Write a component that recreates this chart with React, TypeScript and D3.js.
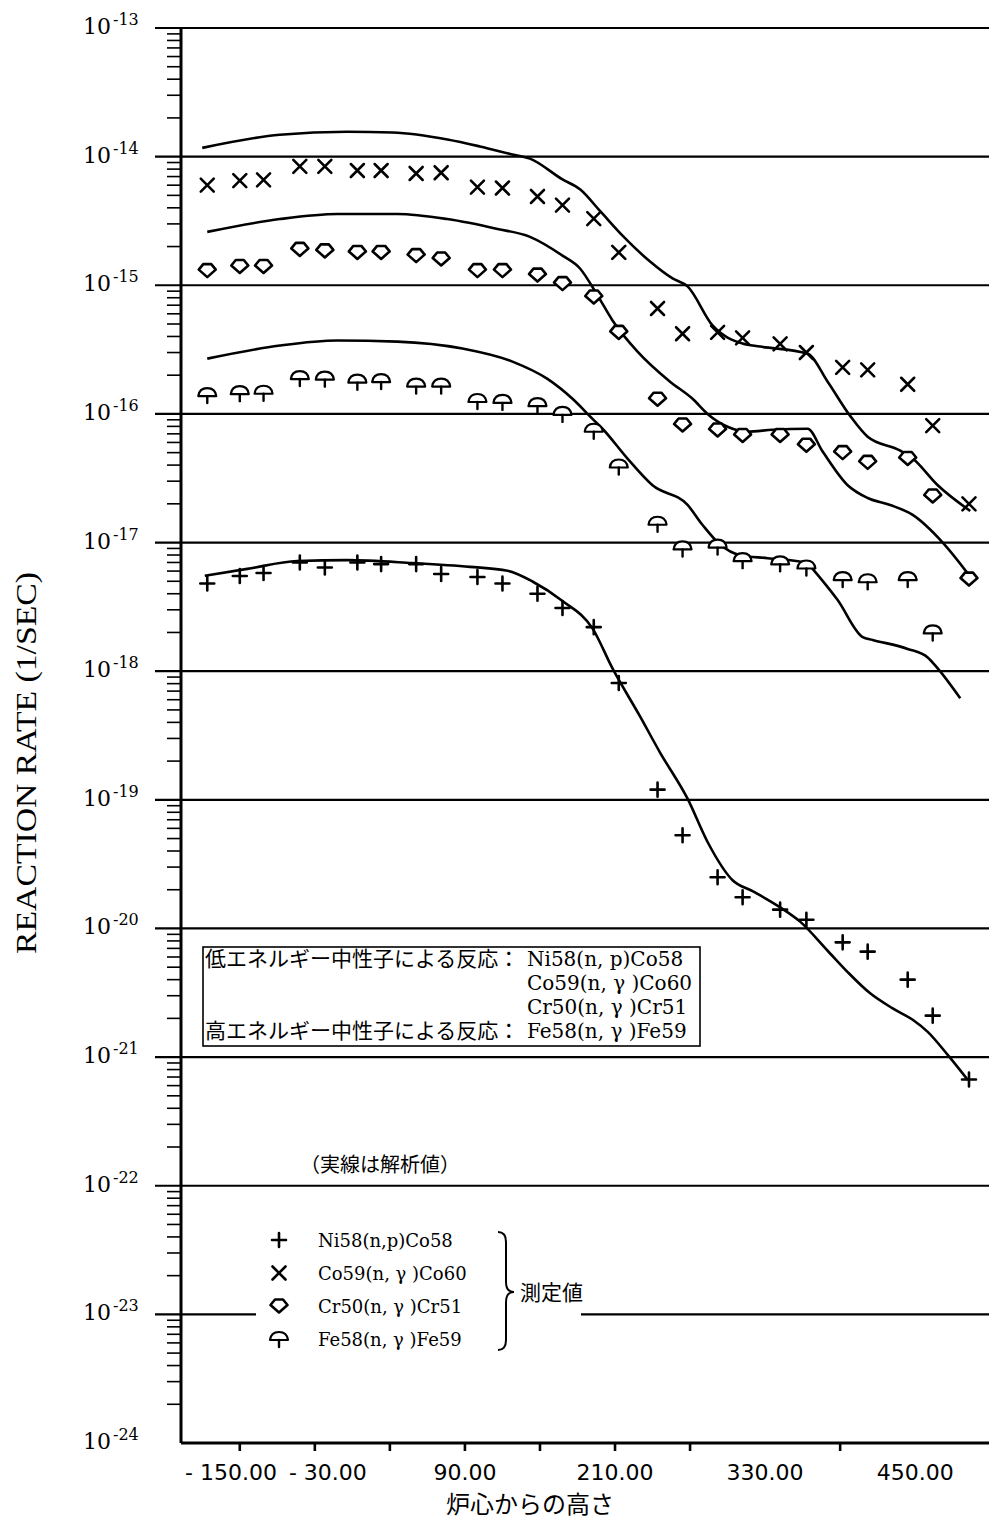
import React from 'react';
import * as d3 from 'd3';

const W = 989;
const H = 1522;

// heights of the measuring positions (cm from core)
const measuredHeights = [-116, -90, -71, -42, -22, 4, 23, 51, 71, 100, 120, 148, 168, 193, 213, 244, 264, 292, 312, 342, 363, 392, 412, 444, 464, 493];

// measured reaction rates (1/sec)
const ni58Measured = [4.8e-18, 5.5e-18, 5.8e-18, 7.0e-18, 6.4e-18, 7.0e-18, 6.8e-18, 6.8e-18, 5.7e-18, 5.4e-18, 4.8e-18, 4.0e-18, 3.1e-18, 2.2e-18, 8.1e-19, 1.2e-19, 5.3e-20, 2.5e-20, 1.75e-20, 1.4e-20, 1.17e-20, 7.8e-21, 6.6e-21, 4.0e-21, 2.1e-21, 6.7e-22];
const co59Measured = [6.0e-15, 6.5e-15, 6.6e-15, 8.4e-15, 8.4e-15, 7.8e-15, 7.8e-15, 7.4e-15, 7.5e-15, 5.8e-15, 5.7e-15, 4.9e-15, 4.2e-15, 3.3e-15, 1.8e-15, 6.6e-16, 4.2e-16, 4.3e-16, 3.9e-16, 3.5e-16, 3.0e-16, 2.3e-16, 2.2e-16, 1.7e-16, 8.1e-17, 2.0e-17];
const cr50Measured = [1.3e-15, 1.4e-15, 1.4e-15, 1.9e-15, 1.85e-15, 1.8e-15, 1.8e-15, 1.7e-15, 1.6e-15, 1.3e-15, 1.3e-15, 1.2e-15, 1.03e-15, 8.1e-16, 4.3e-16, 1.3e-16, 8.2e-17, 7.5e-17, 6.8e-17, 6.8e-17, 5.7e-17, 5.0e-17, 4.2e-17, 4.5e-17, 2.3e-17, 5.2e-18];
const fe58Measured = [1.4e-16, 1.45e-16, 1.46e-16, 1.9e-16, 1.88e-16, 1.78e-16, 1.8e-16, 1.66e-16, 1.66e-16, 1.26e-16, 1.24e-16, 1.17e-16, 1.0e-16, 7.4e-17, 3.9e-17, 1.4e-17, 9.0e-18, 9.3e-18, 7.3e-18, 6.9e-18, 6.4e-18, 5.2e-18, 5.0e-18, 5.2e-18, 2.0e-18];

// analysis (solid lines)
const coCalcH = [-120, -58, -4, 32, 76, 102, 128, 142, 168, 182, 198, 216, 238, 256, 268, 288, 312, 326, 364, 380, 398, 412, 438, 448, 468, 494];
const coCalc = [1.17e-14, 1.48e-14, 1.56e-14, 1.54e-14, 1.36e-14, 1.2e-14, 1.04e-14, 9.65e-15, 6.65e-15, 5.57e-15, 3.78e-15, 2.43e-15, 1.53e-15, 1.13e-15, 9.8e-16, 4.87e-16, 3.52e-16, 3.34e-16, 2.94e-16, 1.78e-16, 9.65e-17, 6.65e-17, 5.19e-17, 4.5e-17, 2.79e-17, 1.76e-17];
const crCalcH = [-116, -58, -12, 36, 76, 116, 142, 168, 182, 196, 208, 228, 254, 272, 284, 300, 316, 336, 364, 376, 396, 412, 430, 448, 472, 494];
const crCalc = [2.6e-15, 3.27e-15, 3.58e-15, 3.58e-15, 3.27e-15, 2.74e-15, 2.38e-15, 1.7e-15, 1.35e-15, 8.35e-16, 5.33e-16, 3.05e-16, 1.78e-16, 1.31e-16, 1.0e-16, 7.94e-17, 7.27e-17, 7.53e-17, 7.67e-17, 5.1e-17, 2.79e-17, 2.22e-17, 1.96e-17, 1.64e-17, 1.0e-17, 5.43e-18];
const feCalcH = [-116, -58, -12, 36, 88, 128, 156, 176, 192, 200, 220, 240, 268, 280, 294, 310, 332, 364, 368, 388, 408, 416, 444, 460, 468, 486];
const feCalc = [2.69e-16, 3.4e-16, 3.72e-16, 3.65e-16, 3.22e-16, 2.55e-16, 1.87e-16, 1.31e-16, 9.15e-17, 7.67e-17, 4.5e-17, 2.79e-17, 1.96e-17, 1.37e-17, 9.65e-18, 7.98e-18, 7.56e-18, 6.93e-18, 6.24e-18, 3.57e-18, 1.84e-18, 1.75e-18, 1.49e-18, 1.28e-18, 1.05e-18, 6.15e-19];
const niCalcH = [-118, -84, -44, -4, 48, 94, 124, 144, 168, 192, 208, 230, 246, 268, 284, 304, 320, 342, 358, 380, 396, 414, 432, 448, 460, 476, 492];
const niCalc = [5.52e-18, 6.24e-18, 7.18e-18, 7.3e-18, 6.93e-18, 6.47e-18, 6.03e-18, 4.98e-18, 3.51e-18, 2.15e-18, 1.05e-18, 4.45e-19, 2.33e-19, 1.02e-19, 4.7e-20, 2.37e-20, 1.95e-20, 1.46e-20, 1.13e-20, 6.71e-21, 4.58e-21, 3.13e-21, 2.39e-21, 1.95e-21, 1.57e-21, 1.04e-21, 6.65e-22];

// axes
const xTickLabels = [-150, -30, 90, 210, 330, 450];
const xTickMarks = [-90, -30, 30, 90, 150, 210, 270, 390];
const decadeExps = d3.range(-24, -12);

const legendItems = [
  { kind: 'plus', label: 'Ni58(n,p)Co58' },
  { kind: 'cross', label: 'Co59(n, γ )Co60' },
  { kind: 'gem', label: 'Cr50(n, γ )Cr51' },
  { kind: 'umbrella', label: 'Fe58(n, γ )Fe59' },
];

const SERIF = "'DejaVu Serif', 'Noto Sans CJK JP', serif";
const CJK = "'Noto Sans CJK JP', sans-serif";
const TICK_FONT = 22;

const Marker = ({ kind, x, y }: { kind: string; x: number; y: number }) => {
  const common = { stroke: '#000', strokeWidth: 2.6, strokeLinejoin: 'round' as const, strokeLinecap: 'round' as const };
  let shape;
  if (kind === 'plus') shape = <path d="M-7,0H7M0,-7V7" {...common} fill="none" />;
  else if (kind === 'cross') shape = <path d="M-6.5,-6.5L6.5,6.5M-6.5,6.5L6.5,-6.5" {...common} fill="none" />;
  else if (kind === 'gem') shape = <path d="M-8.5,-1L-4,-6.5L4,-6.5L8.5,-1L0,6.5Z" {...common} fill="#fff" />;
  else
    shape = (
      <g>
        <path d="M-9,1Q-8,-7 0,-7Q8,-7 9,1Z" {...common} strokeWidth={2.2} fill="#fff" />
        <path d="M0,1V8" {...common} strokeWidth={2.4} />
      </g>
    );
  return <g transform={`translate(${x},${y})`}>{shape}</g>;
};

// rough DejaVu Sans advance widths for the tick label strings
const textWidth = (s: string, size: number) =>
  s.split('').reduce((w, c) => w + (c === '.' || c === ' ' ? 0.318 : c === '-' ? 0.361 : 0.636) * size, 0);

const fmtTick = (v: number) => (v < 0 ? '- ' + Math.abs(v).toFixed(2) : v.toFixed(2));

export default function App() {
  const left = 181;
  const bottom = 1443;
  const x = d3.scaleLinear().domain([-137, 509]).range([left, W]);
  const y = d3.scaleLog().domain([1e-24, 1e-13]).range([bottom, 28]);

  const line = d3
    .line<[number, number]>()
    .x((d) => x(d[0]))
    .y((d) => y(d[1]))
    .curve(d3.curveMonotoneX);

  const calcSeries = [
    d3.zip(coCalcH, coCalc),
    d3.zip(crCalcH, crCalc),
    d3.zip(feCalcH, feCalc),
    d3.zip(niCalcH, niCalc),
  ] as [number, number][][];

  const measuredSeries = [
    { kind: 'plus', values: ni58Measured },
    { kind: 'cross', values: co59Measured },
    { kind: 'gem', values: cr50Measured },
    { kind: 'umbrella', values: fe58Measured },
  ];

  const minorTicks: number[] = [];
  decadeExps.slice(0, -1).forEach((e) => {
    for (let m = 2; m <= 9; m++) minorTicks.push(m * Math.pow(10, e));
  });

  // x tick labels laid out left to right, pushed right where they would hit the axis or each other
  let prevEnd = left - 8;
  const xLabels = xTickLabels.map((v) => {
    const s = fmtTick(v);
    const w = textWidth(s, TICK_FONT);
    const start = Math.max(x(v) - w / 2, prevEnd + 12);
    prevEnd = start + w;
    return { v, s, cx: start + w / 2 };
  });

  const legX = 279;
  const legY0 = 1240;
  const legDy = 33;

  return (
    <svg
      width={W}
      height={H}
      viewBox={`0 0 ${W} ${H}`}
      style={{ position: 'absolute', left: 0, top: 0, background: '#fff' }}
    >
      <rect width={W} height={H} fill="#fff" />

      {/* decade grid lines */}
      {decadeExps.slice(1).map((e) => (
        <line key={e} x1={155} x2={W} y1={y(Math.pow(10, e))} y2={y(Math.pow(10, e))} stroke="#000" strokeWidth={2.2} />
      ))}
      {/* gap in the 10^-23 line behind the legend */}
      <rect x={256} y={1225} width={325} height={130} fill="#fff" />

      {/* minor log ticks */}
      {minorTicks.map((v, i) => (
        <line key={i} x1={167} x2={left} y1={y(v)} y2={y(v)} stroke="#000" strokeWidth={1.6} />
      ))}

      {/* axes */}
      <line x1={left} x2={left} y1={y(1e-13)} y2={bottom} stroke="#000" strokeWidth={3} />
      <line x1={left} x2={W} y1={bottom} y2={bottom} stroke="#000" strokeWidth={3} />
      {xTickMarks.map((v) => (
        <line key={v} x1={x(v)} x2={x(v)} y1={bottom} y2={bottom + 8} stroke="#000" strokeWidth={2.6} />
      ))}

      {/* y tick labels */}
      {decadeExps.map((e) => (
        <g key={e} fontFamily={SERIF} fill="#000">
          <text x={111} y={y(Math.pow(10, e)) + 6} fontSize={22} textAnchor="end">
            10
          </text>
          <text x={113} y={y(Math.pow(10, e)) - 3} fontSize={16}>
            {String(e)}
          </text>
        </g>
      ))}

      {/* x tick labels */}
      {xLabels.map((d) => (
        <text
          key={d.v}
          x={d.cx}
          y={1480}
          fontSize={TICK_FONT}
          textAnchor="middle"
          fontFamily="'DejaVu Sans', sans-serif"
          fill="#000"
        >
          {d.s}
        </text>
      ))}

      {/* axis titles */}
      <text
        transform="translate(36,763) rotate(-90)"
        textAnchor="middle"
        fontSize={29}
        fontFamily="'Liberation Serif', serif"
        textLength={382}
        lengthAdjust="spacingAndGlyphs"
      >
        REACTION RATE (1/SEC)
      </text>
      <text x={530} y={1513} textAnchor="middle" fontSize={24} fontFamily={CJK}>
        炉心からの高さ
      </text>

      {/* analysis curves */}
      {calcSeries.map((s, i) => (
        <path key={i} d={line(s) || ''} fill="none" stroke="#000" strokeWidth={2.6} />
      ))}

      {/* measured points */}
      {measuredSeries.map((s) =>
        s.values.map((v, i) => <Marker key={s.kind + i} kind={s.kind} x={x(measuredHeights[i])} y={y(v)} />)
      )}

      {/* reaction box */}
      <rect x={203} y={947} width={497} height={99} fill="#fff" stroke="#000" strokeWidth={1.6} />
      <g fontSize={21} fill="#000">
        <text x={205} y={966} fontFamily={CJK}>低エネルギー中性子による反応：</text>
        <text x={527} y={966} fontFamily={SERIF} fontSize={20}>Ni58(n, p)Co58</text>
        <text x={527} y={990} fontFamily={SERIF} fontSize={20}>Co59(n, γ )Co60</text>
        <text x={527} y={1014} fontFamily={SERIF} fontSize={20}>Cr50(n, γ )Cr51</text>
        <text x={205} y={1038} fontFamily={CJK}>高エネルギー中性子による反応：</text>
        <text x={527} y={1038} fontFamily={SERIF} fontSize={20}>Fe58(n, γ )Fe59</text>
      </g>

      <text x={300} y={1172} fontSize={20} fontFamily={CJK}>
        （実線は解析値）
      </text>

      {/* legend */}
      {legendItems.map((d, i) => (
        <g key={d.kind}>
          <Marker kind={d.kind} x={legX} y={legY0 + i * legDy} />
          <text x={318} y={legY0 + i * legDy + 7} fontSize={18} fontFamily={SERIF}>
            {d.label}
          </text>
        </g>
      ))}
      <path
        d={`M498,1232 Q506,1232 506,1242 L506,1282 Q506,1292 514,1292 Q506,1292 506,1302 L506,1340 Q506,1350 498,1350`}
        fill="none"
        stroke="#000"
        strokeWidth={2}
      />
      <text x={520} y={1300} fontSize={21} fontFamily={CJK}>
        測定値
      </text>
    </svg>
  );
}
